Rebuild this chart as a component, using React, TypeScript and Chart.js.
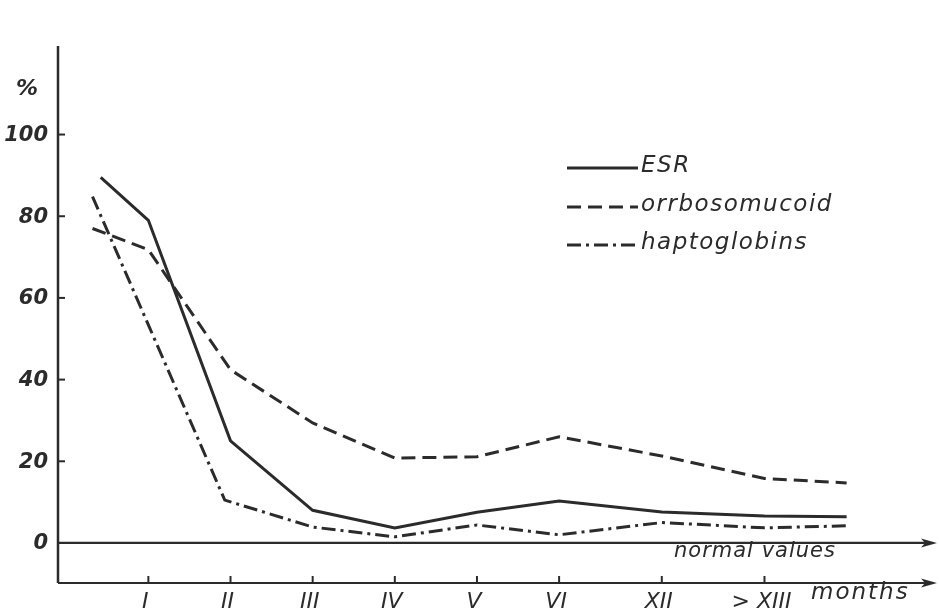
import React, { useEffect, useRef } from "react";
import { Chart, registerables } from "chart.js";

Chart.register(...registerables);

const monthLabels = ["I", "II", "III", "IV", "V", "VI", "XII", "> XIII"];
const monthPositions = [1, 2, 3, 4, 5, 6, 7.25, 8.5];
const yTickValues = [0, 20, 40, 60, 80, 100];

const esrX = [0.42, 1, 2, 3, 4, 5, 6, 7.25, 8.5, 9.5];
const esrValues = [89.5, 79, 25, 8, 3.7, 7.5, 10.3, 7.6, 6.6, 6.4];

const orosoX = [0.32, 1, 2, 3, 4, 5, 6, 7.25, 8.5, 9.5];
const orosoValues = [77, 71.8, 42.4, 29.4, 20.8, 21.1, 26, 21.3, 15.8, 14.7];

const haptoX = [0.32, 1, 1.93, 3, 4, 5, 6, 7.25, 8.5, 9.5];
const haptoValues = [84.8, 53.4, 10.5, 3.9, 1.5, 4.4, 2.0, 5.0, 3.7, 4.2];

const seriesNames = ["ESR", "orrbosomucoid", "haptoglobins"];

const INK = "#2b2b2b";
const DASH = [14, 7];
const DASHDOT = [14, 5, 3, 5];
const FONT = '"DejaVu Sans", sans-serif';

function toPoints(xs: number[], ys: number[]) {
  return xs.map((x, i) => ({ x, y: ys[i] }));
}

function arrow(ctx: CanvasRenderingContext2D, x: number, y: number) {
  ctx.beginPath();
  ctx.moveTo(x, y);
  ctx.lineTo(x - 16, y - 4.5);
  ctx.lineTo(x - 12, y);
  ctx.lineTo(x - 16, y + 4.5);
  ctx.closePath();
  ctx.fill();
}

const decorPlugin = {
  id: "decor",
  afterDraw(chart: any) {
    const ctx: any = chart.ctx;
    const xs = chart.scales.x;
    const ys = chart.scales.y;
    const area = chart.chartArea;
    ctx.save();
    ctx.strokeStyle = INK;
    ctx.fillStyle = INK;
    ctx.lineWidth = 2.5;
    ctx.setLineDash([]);

    // y axis
    ctx.beginPath();
    ctx.moveTo(area.left, area.top - 4);
    ctx.lineTo(area.left, area.bottom);
    ctx.stroke();

    // y ticks + labels
    ctx.font = `italic bold 21px ${FONT}`;
    ctx.textAlign = "right";
    ctx.textBaseline = "middle";
    yTickValues.forEach((v) => {
      const py = ys.getPixelForValue(v);
      if (v !== 0) {
        ctx.beginPath();
        ctx.lineWidth = 2;
        ctx.moveTo(area.left, py);
        ctx.lineTo(area.left + 7, py);
        ctx.stroke();
      }
      ctx.fillText(String(v), area.left - 10, py + 1);
    });
    ctx.textAlign = "center";
    ctx.font = `italic bold 22px ${FONT}`;
    ctx.fillText("%", 27, 89);

    // zero line with arrow
    const y0 = ys.getPixelForValue(0);
    ctx.lineWidth = 2.2;
    ctx.beginPath();
    ctx.moveTo(area.left, y0);
    ctx.lineTo(area.right - 12, y0);
    ctx.stroke();
    arrow(ctx, area.right, y0);

    // months axis with arrow
    ctx.beginPath();
    ctx.moveTo(area.left, area.bottom);
    ctx.lineTo(area.right - 12, area.bottom);
    ctx.stroke();
    arrow(ctx, area.right, area.bottom);

    // x ticks + labels
    ctx.font = `italic 22px ${FONT}`;
    ctx.textBaseline = "middle";
    ctx.textAlign = "center";
    monthPositions.forEach((p, i) => {
      const px = xs.getPixelForValue(p);
      ctx.lineWidth = 2;
      ctx.beginPath();
      ctx.moveTo(px, area.bottom);
      ctx.lineTo(px, area.bottom - 7);
      ctx.stroke();
      ctx.fillText(monthLabels[i], px - 3, area.bottom + 19);
    });
    ctx.textAlign = "left";
    ctx.font = `italic 23px ${FONT}`;
    ctx.letterSpacing = "2px";
    ctx.fillText("months", 811, area.bottom + 10);

    ctx.font = `italic 21px ${FONT}`;
    ctx.letterSpacing = "1px";
    ctx.fillText("normal values", 674, y0 + 9);

    // legend
    const dashes = [[], DASH, DASHDOT];
    const legendY = [168, 207, 245];
    ctx.font = `italic 23px ${FONT}`;
    ctx.letterSpacing = "1.5px";
    seriesNames.forEach((name, i) => {
      ctx.lineWidth = 2.8;
      ctx.setLineDash(dashes[i]);
      ctx.beginPath();
      ctx.moveTo(567, legendY[i]);
      ctx.lineTo(638, legendY[i]);
      ctx.stroke();
      ctx.setLineDash([]);
      ctx.fillText(name, 641, legendY[i] - 2);
    });
    ctx.letterSpacing = "0px";
    ctx.restore();
  },
};

export default function App() {
  const ref = useRef<HTMLCanvasElement>(null);
  useEffect(() => {
    if (!ref.current) return;
    const chart = new Chart(ref.current, {
      type: "line",
      data: {
        datasets: [
          {
            label: seriesNames[0],
            data: toPoints(esrX, esrValues),
            borderColor: INK,
            borderWidth: 3,
            pointRadius: 0,
            tension: 0,
          },
          {
            label: seriesNames[1],
            data: toPoints(orosoX, orosoValues),
            borderColor: INK,
            borderWidth: 3,
            borderDash: DASH,
            pointRadius: 0,
            tension: 0,
          },
          {
            label: seriesNames[2],
            data: toPoints(haptoX, haptoValues),
            borderColor: INK,
            borderWidth: 3,
            borderDash: DASHDOT,
            pointRadius: 0,
            tension: 0,
          },
        ],
      },
      options: {
        animation: false,
        responsive: false,
        layout: { padding: { left: 58, right: 2, top: 50, bottom: 29 } },
        scales: {
          x: { type: "linear", min: -0.1, max: 10.6, display: false },
          y: { type: "linear", min: -9.8, max: 120.7, display: false },
        },
        plugins: {
          legend: { display: false },
          tooltip: { enabled: false },
        },
      },
      plugins: [decorPlugin],
    });
    return () => chart.destroy();
  }, []);
  return (
    <div style={{ position: "fixed", left: 0, top: 0, width: 939, height: 612, background: "#fff" }}>
      <canvas ref={ref} width={939} height={612} style={{ width: 939, height: 612 }} />
    </div>
  );
}
